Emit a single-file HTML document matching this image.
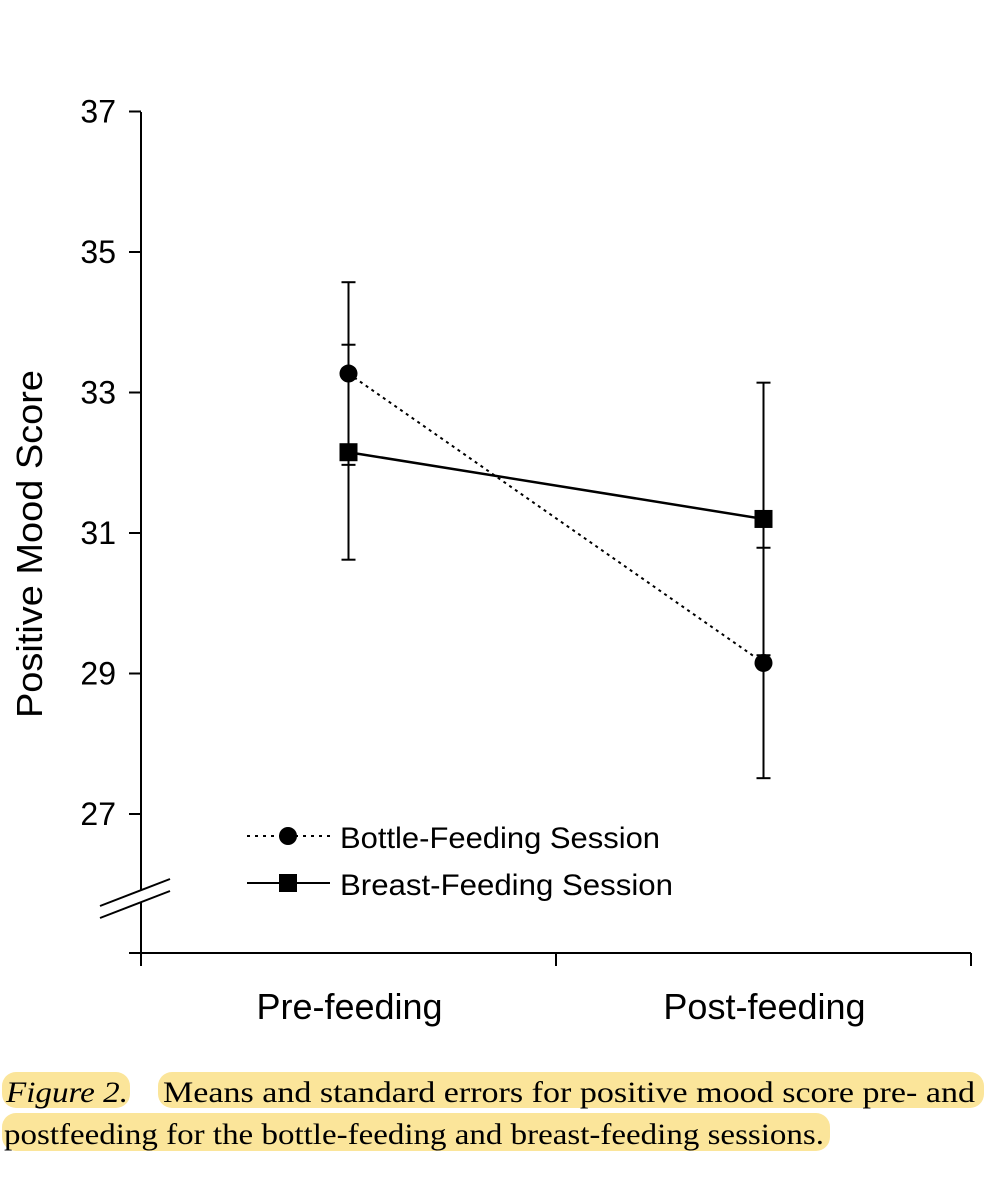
<!DOCTYPE html>
<html><head><meta charset="utf-8"><style>
html,body{margin:0;padding:0;background:#fff;}
svg{display:block;}
</style></head><body>
<svg id="chart" width="1005" height="1200" viewBox="0 0 1005 1200" xmlns="http://www.w3.org/2000/svg" font-family="Liberation Sans, sans-serif">
<g id="axes"></g>
<g id="marks"></g>
<g id="legend">
  <line x1="247" y1="836" x2="330" y2="836" stroke="#000" stroke-width="2" stroke-dasharray="3,5"/>
  <circle cx="288" cy="836" r="9" fill="#000"/>
  <text x="340" y="848" font-size="30" textLength="320" lengthAdjust="spacingAndGlyphs">Bottle-Feeding Session</text>
  <line x1="247" y1="883" x2="330" y2="883" stroke="#000" stroke-width="2"/>
  <rect x="279" y="874" width="18" height="18" fill="#000"/>
  <text x="340" y="895" font-size="30" textLength="333" lengthAdjust="spacingAndGlyphs">Breast-Feeding Session</text>
</g>
<g id="caption" font-family="Liberation Serif, serif" font-size="30">
  <rect x="2" y="1072" width="128" height="36" rx="14" fill="#fbe59a"/>
  <rect x="158" y="1072" width="826" height="36" rx="14" fill="#fbe59a"/>
  <rect x="2" y="1113" width="828" height="38" rx="14" fill="#fbe59a"/>
  <text x="6" y="1102" font-style="italic" textLength="122" lengthAdjust="spacingAndGlyphs">Figure 2.</text>
  <text x="163" y="1102" textLength="812" lengthAdjust="spacingAndGlyphs">Means and standard errors for positive mood score pre- and</text>
  <text x="4" y="1144" textLength="820" lengthAdjust="spacingAndGlyphs">postfeeding for the bottle-feeding and breast-feeding sessions.</text>
</g>
</svg>
<script>
const categories = ["Pre-feeding", "Post-feeding"];
const bottleMeans = [33.27, 29.15];
const bottleErr = [1.3, 1.64];
const breastMeans = [32.15, 31.2];
const breastErr = [1.53, 1.94];
const yTicks = [27, 29, 31, 33, 35, 37];

const NS = "http://www.w3.org/2000/svg";
const X0 = 141, X1 = 971, YTOP = 112, YBASE = 953;
function yScale(v){ return 814 - (v - 27) * 70.25; }
function xScale(i){ const band = (X1 - X0) / categories.length; return X0 + band * (i + 0.5); }
function mk(tag, attrs, parent){ const e = document.createElementNS(NS, tag); for (const k in attrs) e.setAttribute(k, attrs[k]); parent.appendChild(e); return e; }

const axes = document.getElementById('axes');
const marks = document.getElementById('marks');

let yAxis = mk('line', {x1:X0, y1:YTOP, x2:X0, y2:YBASE, stroke:'#000', 'stroke-width':2}, axes);


let xAxis = mk('line', {x1:X0-12, y1:YBASE, x2:X1, y2:YBASE, stroke:'#000', 'stroke-width':2}, axes);



yTicks.forEach(v => {
  const y = yScale(v);
  const t = mk('line', {x1:X0-12, y1:y, x2:X0, y2:y, stroke:'#000', 'stroke-width':2}, axes);
  
  
  const l = mk('text', {x:116, y:y+11, 'font-size':32, 'text-anchor':'end'}, axes);
  l.textContent = v;
  
  
});

for (let i = 0; i <= categories.length; i++) {
  const x = X0 + (X1 - X0) / categories.length * i;
  const t = mk('line', {x1:x, y1:YBASE, x2:x, y2:YBASE+13, stroke:'#000', 'stroke-width':2}, axes);
  
  
}
categories.forEach((c, i) => {
  const l = mk('text', {x:xScale(i)+1, y:1019, 'font-size':36, 'text-anchor':'middle'}, axes);
  l.textContent = c;
  
  
});

const brk = mk('g', {}, axes);


mk('polygon', {points:'100,906 170,879 170,891 100,918', fill:'#fff'}, brk);
mk('line', {x1:100, y1:906, x2:170, y2:879, stroke:'#000', 'stroke-width':2}, brk);
mk('line', {x1:100, y1:918, x2:170, y2:891, stroke:'#000', 'stroke-width':2}, brk);

const yt = mk('text', {x:0, y:0, 'font-size':36, 'text-anchor':'middle', textLength:348, lengthAdjust:'spacingAndGlyphs', transform:'translate(42,544) rotate(-90)'}, axes);
yt.textContent = 'Positive Mood Score';



function errBars(means, errs, name){
  means.forEach((m, i) => {
    const x = xScale(i);
    const g = mk('g', {stroke:'#000', 'stroke-width':2}, marks);
    
    
    mk('line', {x1:x, y1:yScale(m+errs[i]), x2:x, y2:yScale(m-errs[i])}, g);
    mk('line', {x1:x-7, y1:yScale(m+errs[i]), x2:x+7, y2:yScale(m+errs[i])}, g);
    mk('line', {x1:x-7, y1:yScale(m-errs[i]), x2:x+7, y2:yScale(m-errs[i])}, g);
  });
}
errBars(bottleMeans, bottleErr, 'bottle');
errBars(breastMeans, breastErr, 'breast');

const bl = mk('polyline', {points: bottleMeans.map((m,i)=>xScale(i)+','+yScale(m)).join(' '), fill:'none', stroke:'#000', 'stroke-width':2, 'stroke-dasharray':'3,4'}, marks);


const brl = mk('polyline', {points: breastMeans.map((m,i)=>xScale(i)+','+yScale(m)).join(' '), fill:'none', stroke:'#000', 'stroke-width':2.5}, marks);



bottleMeans.forEach((m, i) => {
  const c = mk('circle', {cx:xScale(i), cy:yScale(m), r:9, fill:'#000'}, marks);
  
  
});
breastMeans.forEach((m, i) => {
  const r = mk('rect', {x:xScale(i)-9, y:yScale(m)-9, width:18, height:18, fill:'#000'}, marks);
  
  
});
</script>
</body></html>
